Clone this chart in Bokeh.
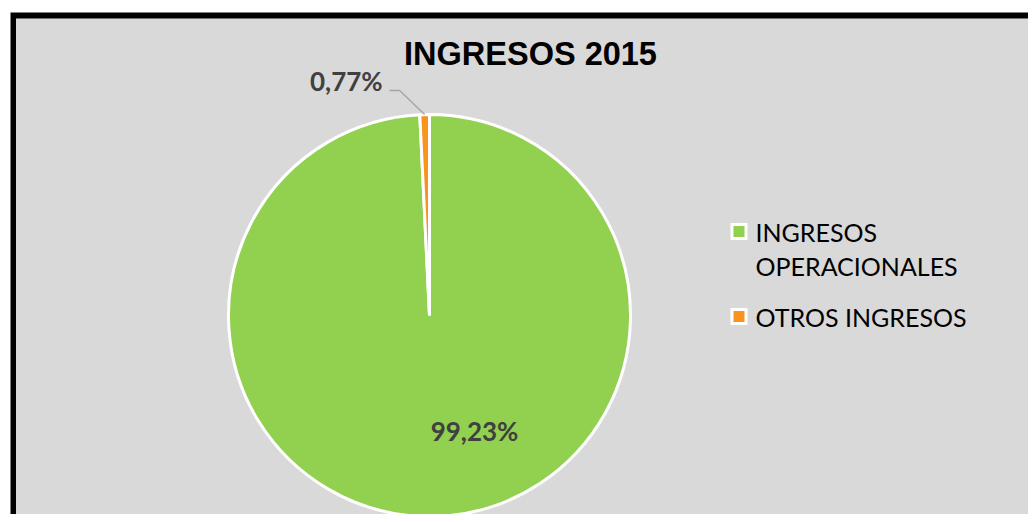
import math
from bokeh.plotting import figure
from bokeh.models import Range1d, ColumnDataSource
from bokeh.core.properties import value
from bokeh.embed import file_html
from bokeh.resources import INLINE

# ---- data ----
categories = ["INGRESOS OPERACIONALES", "OTROS INGRESOS"]
legend_labels = ["INGRESOS\nOPERACIONALES", "OTROS INGRESOS"]
shares = [99.23, 0.77]
value_labels = ["99,23%", "0,77%"]
colors = ["#92D050", "#F7931E"]
title_text = "INGRESOS 2015"

W, H = 1028, 514
p = figure(width=W, height=H, output_backend="svg", toolbar_location=None,
           x_range=Range1d(10, 1028), y_range=Range1d(0, 502),
           min_border_left=10, min_border_top=12, min_border_right=0, min_border_bottom=0)
p.axis.visible = False
p.grid.visible = False
p.outline_line_color = None
p.border_fill_color = "white"
p.background_fill_color = "black"

def Y(page_y):
    return 514 - page_y

# gray chart area inside the black border
p.quad(left=[15.5], right=[1040], bottom=[-5], top=[Y(18)], fill_color="#D9D9D9", line_color=None)

# pie
cx, cy, r = 429, Y(315), 201
total = sum(shares)
starts, ends, mids = [], [], []
a = math.pi / 2
for s in shares:
    da = 2 * math.pi * s / total
    starts.append(a)
    ends.append(a - da)
    mids.append(a - da / 2)
    a -= da
src = ColumnDataSource(dict(start=starts, end=ends, color=colors, cat=categories))
p.wedge(x=cx, y=cy, radius=r, start_angle="start", end_angle="end", direction="clock",
        fill_color="color", line_color="white", line_width=3, source=src)

# value labels
p.text(x=[cx + 45], y=[cy - 115], text=[value_labels[0]], text_font=value("Lato"),
       text_font_style="bold", text_font_size="26px", text_color="#404040",
       text_align="center", text_baseline="middle")
m = mids[1]
ex, ey = cx + r * math.cos(m), cy + r * math.sin(m)
p.line(x=[ex, ex - 25, ex - 35], y=[ey, ey + 24, ey + 24], line_color="#A6A6A6", line_width=1.5)
p.text(x=[ex - 42], y=[ey + 34], text=[value_labels[1]], text_font=value("Lato"),
       text_font_style="bold", text_font_size="26px", text_color="#404040",
       text_align="right", text_baseline="middle")

# title
p.text(x=[530], y=[Y(53)], text=[title_text], text_font=value("Liberation Sans"),
       text_font_style="bold", text_font_size="32.5px", text_color="black",
       text_align="center", text_baseline="middle")

# legend
leg_y = [Y(231), Y(316)]
p.scatter(x=[738.5] * 2, y=leg_y, marker="square", size=17, fill_color="white", line_color=None)
p.scatter(x=[738.5] * 2, y=leg_y, marker="square", size=11, fill_color=colors, line_color=None)
for ly, lab in zip(leg_y, legend_labels):
    lines = lab.split("\n")
    p.text(x=[755] * len(lines), y=[ly - 34 * i for i in range(len(lines))], text=lines,
           text_font=value("Lato"), text_font_size="25px", text_color="black",
           text_align="left", text_baseline="middle")

open("out.html", "w").write(file_html(p, INLINE))
